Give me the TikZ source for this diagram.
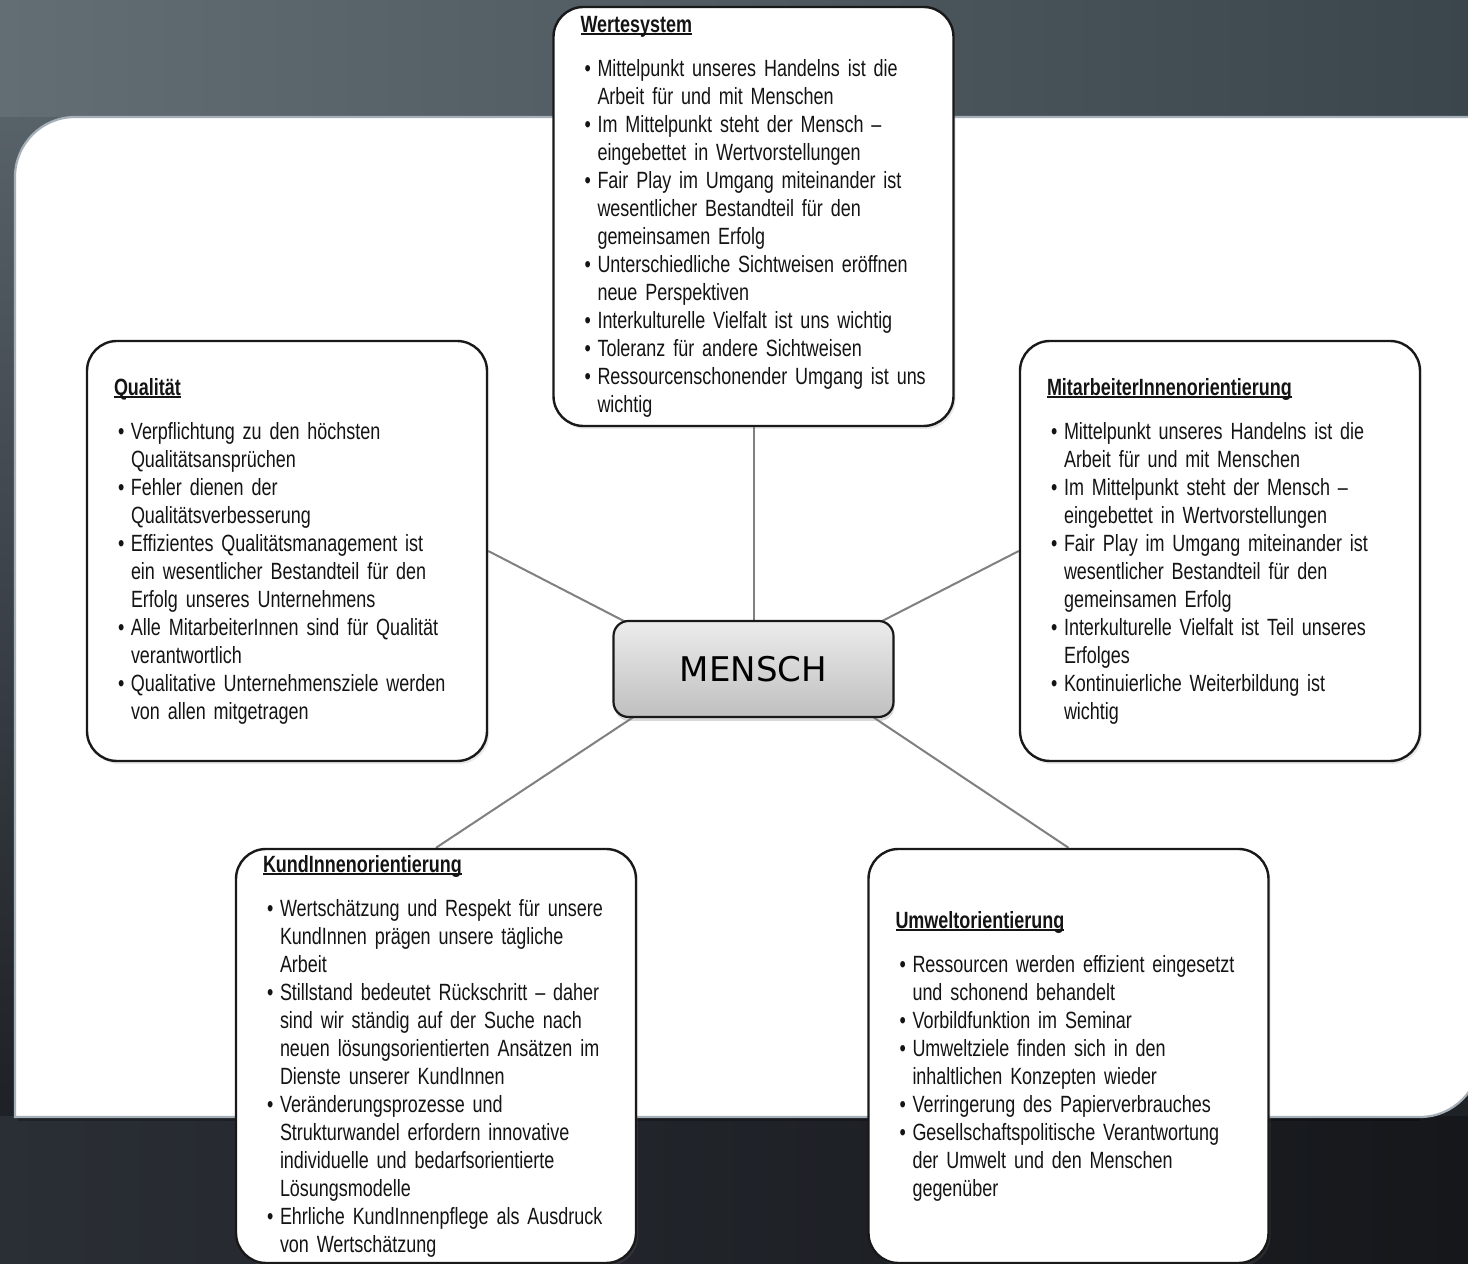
\documentclass[tikz,border=0pt]{standalone}
\usepackage{fontspec}
\setmainfont{Liberation Sans}[FakeStretch=0.765, WordSpace=0.62]
\newfontfamily\menschfont{DejaVu Sans}
\usetikzlibrary{shadows}
\pgfdeclarelayer{bg}
\pgfdeclarelayer{lines}
\pgfsetlayers{bg,lines,main}
\definecolor{bgtopL}{HTML}{626D74}
\definecolor{bgtopR}{HTML}{3B454C}
\definecolor{bgmidtop}{HTML}{5E6970}
\definecolor{bgbot}{HTML}{15171B}
\definecolor{bgbotL}{HTML}{2A2E35}
\definecolor{paneledge}{HTML}{A5AFB7}
\definecolor{conncol}{HTML}{808080}
\definecolor{txt}{HTML}{141414}
\newcommand{\hd}[1]{\noindent\setbox0\hbox{\bfseries #1}\rlap{\rule[-3pt]{\wd0}{1.8pt}}\box0\par\vspace{16pt}}
\newcommand{\bitem}[1]{\rightskip=-30pt plus 2em\hangindent=17pt\hangafter=1\noindent\makebox[17pt][l]{\hspace{4pt}\textbullet}#1\par}
\tikzset{
  infobox/.style={draw=black!90, line width=2.4pt, rounded corners=30pt, fill=white,
    minimum width=400pt, text width=346pt, inner xsep=27pt, inner ysep=0pt,
    align=left, text=txt, font=\fontsize{23.5}{28}\selectfont,
    drop shadow={opacity=0.18, shadow xshift=2pt, shadow yshift=-3pt}},
  centerbox/.style={draw=black!90, line width=2.2pt, rounded corners=15pt,
    top color=gray!15, bottom color=gray!50, minimum width=280pt, minimum height=96pt,
    font=\menschfont\fontsize{34}{40}\selectfont, text=black,
    drop shadow={opacity=0.3, shadow xshift=1pt, shadow yshift=-4pt}},
  conn/.style={draw=conncol, line width=2pt}
}
\begin{document}
\begin{tikzpicture}[x=1pt,y=1pt]
\useasboundingbox (0,0) rectangle (1468,1264);

% boxes
\node[infobox, minimum height=419pt] (wert) at (753.5,1047.5) {%
\hd{Wertesystem}
\bitem{Mittelpunkt unseres Handelns ist die\newline Arbeit für und mit Menschen}
\bitem{Im Mittelpunkt steht der Mensch –\newline eingebettet in Wertvorstellungen}
\bitem{Fair Play im Umgang miteinander ist\newline wesentlicher Bestandteil für den\newline gemeinsamen Erfolg}
\bitem{Unterschiedliche Sichtweisen eröffnen\newline neue Perspektiven}
\bitem{Interkulturelle Vielfalt ist uns wichtig}
\bitem{Toleranz für andere Sichtweisen}
\bitem{Ressourcenschonender Umgang ist uns\newline wichtig}};

\node[infobox, minimum height=420pt] (qual) at (287,713) {%
\hd{Qualität}
\bitem{Verpflichtung zu den höchsten\newline Qualitätsansprüchen}
\bitem{Fehler dienen der\newline Qualitätsverbesserung}
\bitem{Effizientes Qualitätsmanagement ist\newline ein wesentlicher Bestandteil für den\newline Erfolg unseres Unternehmens}
\bitem{Alle MitarbeiterInnen sind für Qualität\newline verantwortlich}
\bitem{Qualitative Unternehmensziele werden\newline von allen mitgetragen}};

\node[infobox, minimum height=420pt] (mit) at (1220,713) {%
\hd{MitarbeiterInnenorientierung}
\bitem{Mittelpunkt unseres Handelns ist die\newline Arbeit für und mit Menschen}
\bitem{Im Mittelpunkt steht der Mensch –\newline eingebettet in Wertvorstellungen}
\bitem{Fair Play im Umgang miteinander ist\newline wesentlicher Bestandteil für den\newline gemeinsamen Erfolg}
\bitem{Interkulturelle Vielfalt ist Teil unseres\newline Erfolges}
\bitem{Kontinuierliche Weiterbildung ist\newline wichtig}};

\node[infobox, minimum height=414pt] (kund) at (436,208) {%
\hd{KundInnenorientierung}
\bitem{Wertschätzung und Respekt für unsere\newline KundInnen prägen unsere tägliche\newline Arbeit}
\bitem{Stillstand bedeutet Rückschritt – daher\newline sind wir ständig auf der Suche nach\newline neuen lösungsorientierten Ansätzen im\newline Dienste unserer KundInnen}
\bitem{Veränderungsprozesse und\newline Strukturwandel erfordern innovative\newline individuelle und bedarfsorientierte\newline Lösungsmodelle}
\bitem{Ehrliche KundInnenpflege als Ausdruck\newline von Wertschätzung}};

\node[infobox, minimum height=414pt] (umw) at (1068.5,208) {%
\hd{Umweltorientierung}
\bitem{Ressourcen werden effizient eingesetzt\newline und schonend behandelt}
\bitem{Vorbildfunktion im Seminar}
\bitem{Umweltziele finden sich in den\newline inhaltlichen Konzepten wieder}
\bitem{Verringerung des Papierverbrauches}
\bitem{Gesellschaftspolitische Verantwortung\newline der Umwelt und den Menschen\newline gegenüber}};

\node[centerbox] (mensch) at (753.5,595) {MENSCH};

% connectors
\begin{pgfonlayer}{lines}
\draw[conn] (wert.south) -- ([yshift=-6pt]mensch.north);
\draw[conn] (qual.east) -- ([shift={(19pt,-5pt)}]mensch.north west);
\draw[conn] (mit.west) -- ([shift={(-20pt,-5pt)}]mensch.north east);
\draw[conn] (kund.north) -- ([shift={(27pt,5pt)}]mensch.south west);
\draw[conn] (umw.north) -- ([shift={(-26pt,4pt)}]mensch.south east);
\end{pgfonlayer}

% background
\begin{pgfonlayer}{bg}
\clip (0,0) rectangle (1468,1264);
\shade[top color=bgmidtop, bottom color=bgbot] (0,0) rectangle (1468,1264);
\shade[left color=bgtopL, right color=bgtopR] (0,1147) rectangle (1468,1264);
\shade[left color=bgbotL, right color=bgbot] (0,0) rectangle (1468,147);
\fill[black, opacity=0.25] (18,143) -- (1420,143) -- (1420,147) -- (18,147) -- cycle;
\filldraw[fill=white, draw=paneledge, line width=2.2pt]
  (15,147) -- (15,1087) arc[start angle=180, end angle=90, radius=60]
  -- (1480,1147) -- (1480,207) arc[start angle=0, end angle=-90, radius=60] -- cycle;
\end{pgfonlayer}
\end{tikzpicture}
\end{document}
